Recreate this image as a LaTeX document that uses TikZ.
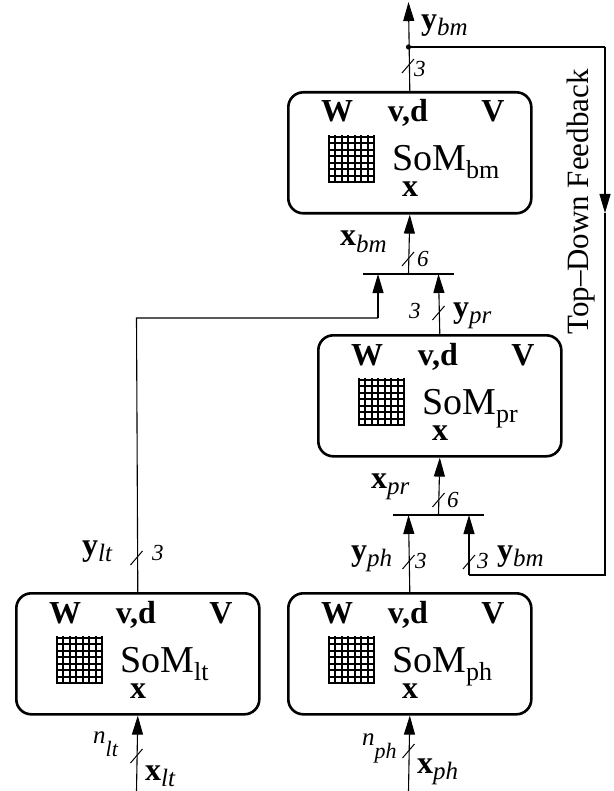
\documentclass[tikz,border=0pt]{standalone}
\usepackage{fontspec}
\setmainfont{Liberation Serif}
\usetikzlibrary{arrows.meta,calc}
\newcommand\vlab[2]{{\fontsize{32}{32}\selectfont\bfseries #1}\raisebox{-6pt}{\fontsize{25}{25}\selectfont\itshape #2}}
\newcommand\nlab[2]{{\fontsize{25}{25}\selectfont\itshape #1}\raisebox{-13pt}{\fontsize{22}{22}\selectfont\itshape #2}}
\newcommand\numlab[1]{{\fontsize{23}{23}\selectfont\itshape #1}}
\newcommand\somlab[1]{{\fontsize{38}{38}\selectfont SoM}\raisebox{-8pt}{\fontsize{26}{26}\selectfont #1}}
\newcommand\somcontent[2]{%
  \node[bt,anchor=base] (#1-W) at ($(#1.north west)+(50,31)$) {W};
  \node[bt,anchor=base] (#1-vd) at ($(#1.north west)+(121,31)$) {v,d};
  \node[bt,anchor=base] (#1-V) at ($(#1.north west)+(206,31)$) {V};
  \node[lbl] (#1-som) at ($(#1.north west)+(105,80)$) {\somlab{#2}};
  \node[bt,anchor=base] (#1-x) at ($(#1.north west)+(123,106)$) {x};
  \foreach \g in {0,6,13,19,26,32,39,45} {
    \draw[gridl] ($(#1.north west)+(42+\g,44)$) -- ++(0,48);
    \draw[gridl] ($(#1.north west)+(41,46+\g)$) -- ++(47,0);
  }%
}
\newcommand\tickat[1]{\draw[tickmark] ($(#1)+(-6,7)$) -- ($(#1)+(6,-7)$);}
\begin{document}
\begin{tikzpicture}[x=1pt,y=-1pt,
  box/.style={draw,line width=2.6pt,rounded corners=15pt,minimum width=243pt,minimum height=121pt,inner sep=0pt,anchor=north west},
  bt/.style={inner sep=0pt,font=\fontsize{32}{32}\selectfont\bfseries},
  lbl/.style={inner sep=0pt,anchor=base west},
  conn/.style={line width=1.1pt},
  arr/.style={conn,-{Triangle[length=19pt,width=11pt]}},
  bar/.style={line width=2.8pt},
  tickmark/.style={line width=1pt},
  gridl/.style={line width=1.4pt},
]
\useasboundingbox (0,0) rectangle (613,791);
% boxes
\node[box] (bm) at (287,91) {};
\node[box] (pr) at (317,334) {};
\node[box] (lt) at (15,592) {};
\node[box] (ph) at (287,592) {};
\somcontent{bm}{bm}
\somcontent{pr}{pr}
\somcontent{lt}{lt}
\somcontent{ph}{ph}
% coordinates
\coordinate (top) at (408.5,2);
\coordinate (dot) at (408.5,47);
\coordinate (fbtr) at (605,47);
\coordinate (fbmid) at (605,213);
\coordinate (fbbr) at (605,575);
\coordinate (fbbl) at (469,575);
\coordinate (bmbar) at (408.5,274);
\coordinate (bmbarL) at (363,274);
\coordinate (bmbarR) at (454,274);
\coordinate (bmin1) at (378,274);
\coordinate (bmin2) at (438.5,274);
\coordinate (ltcorner) at (136.5,318);
\coordinate (ltturn) at (378,318);
\coordinate (prbar) at (438.5,515);
\coordinate (prbarL) at (393,515);
\coordinate (prbarR) at (484,515);
\coordinate (prin1) at (408.5,515);
\coordinate (prin2) at (469,515);
\coordinate (ltin) at (136.5,791);
\coordinate (phin) at (408.5,791);
% bars
\draw[bar] (bmbarL) -- (bmbarR);
\draw[bar] (prbarL) -- (prbarR);
% connectors
\draw[arr] (bm.north) -- (top);
\fill (dot) circle (2.6pt);
\draw[conn] (dot) -- (fbtr);
\draw[arr] (fbtr) -- (fbmid);
\draw[conn] (fbmid) -- (fbbr) -- (fbbl);
\draw[arr] (fbbl) -- (prin2);
\draw[arr] (bmbar) -- (bm.south);
\draw[conn] (lt.north) -- (ltcorner) -- (ltturn);
\draw[arr] (ltturn) -- (bmin1);
\draw[arr] (pr.north) -- (bmin2);
\draw[arr] (prbar) -- (pr.south);
\draw[arr] (ph.north) -- (prin1);
\draw[arr] (ltin) -- (lt.south);
\draw[arr] (phin) -- (ph.south);
% tick marks
\coordinate (t1) at (408,66);
\coordinate (t2) at (408,259);
\coordinate (t3) at (438.5,313);
\coordinate (t4) at (438.5,500);
\coordinate (t5) at (408.5,562);
\coordinate (t6) at (469,562);
\coordinate (t7) at (136.5,558);
\coordinate (t8) at (136.5,756);
\coordinate (t9) at (408.5,751);
\tickat{t1}\tickat{t2}\tickat{t3}\tickat{t4}\tickat{t5}\tickat{t6}\tickat{t7}\tickat{t8}\tickat{t9}
% labels
\node[lbl] (l-ybm) at (421,30) {\vlab{y}{bm}};
\node[lbl] (n-t1) at (414,77) {\numlab{3}};
\node[lbl] (l-xbm) at (340,246) {\vlab{x}{bm}};
\node[lbl] (n-t2) at (417,266) {\numlab{6}};
\node[lbl] (n-t3) at (409,318) {\numlab{3}};
\node[lbl] (l-ypr) at (453,317) {\vlab{y}{pr}};
\node[lbl] (l-xpr) at (371,488) {\vlab{x}{pr}};
\node[lbl] (n-t4) at (447,507) {\numlab{6}};
\node[lbl] (l-yph) at (351,560) {\vlab{y}{ph}};
\node[lbl] (n-t5) at (415,568) {\numlab{3}};
\node[lbl] (n-t6) at (477,568) {\numlab{3}};
\node[lbl] (l-ybm2) at (497,560) {\vlab{y}{bm}};
\node[lbl] (l-ylt) at (82,555) {\vlab{y}{lt}};
\node[lbl] (n-t7) at (152,560) {\numlab{3}};
\node[lbl] (l-nlt) at (93,743) {\nlab{n}{lt}};
\node[lbl] (l-xlt) at (145,780) {\vlab{x}{lt}};
\node[lbl] (l-nph) at (362,745) {\nlab{n}{ph}};
\node[lbl] (l-xph) at (417,773) {\vlab{x}{ph}};
\node[inner sep=0pt,rotate=90,font=\fontsize{31}{31}\selectfont] (fb) at (581,202) {Top--Down Feedback};
\end{tikzpicture}
\end{document}
